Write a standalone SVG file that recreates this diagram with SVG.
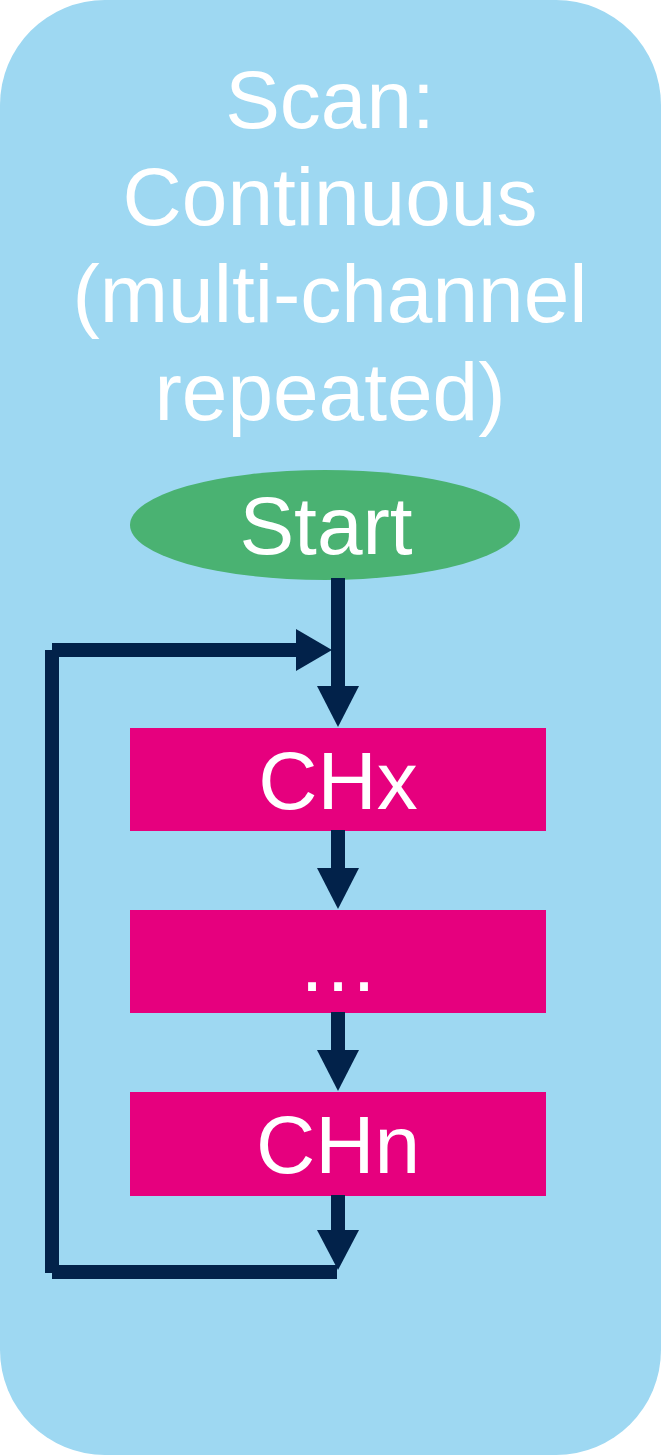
<svg xmlns="http://www.w3.org/2000/svg" width="662" height="1455" viewBox="0 0 662 1455">
<style>
.t{font-family:"Liberation Sans",Arial,sans-serif;font-size:82px;fill:#fff;text-anchor:middle}
.box{fill:#E6007E}
.ln{stroke:#02224A;stroke-width:14;fill:none;stroke-linecap:butt}
.ah{fill:#02224A}
</style>
<g id="panel">
<rect x="0" y="0" width="661" height="1455" rx="105" ry="105" fill="#9ED8F2"/>
<text class="t" x="330" y="128">Scan:</text>
<text class="t" x="330" y="225">Continuous</text>
<text class="t" x="330" y="322">(multi-channel</text>
<text class="t" x="330" y="420">repeated)</text>
</g>
<g id="start">
<ellipse cx="325" cy="525" rx="195" ry="55" fill="#4AB272"/>
<text class="t" x="326" y="554">Start</text>
</g>
<g id="chx">
<rect class="box" x="130" y="728" width="416" height="103"/>
<text class="t" x="338" y="809">CHx</text>
</g>
<g id="dots">
<rect class="box" x="130" y="910" width="416" height="103"/>
<text class="t" x="338" y="991">…</text>
</g>
<g id="chn">
<rect class="box" x="130" y="1092" width="416" height="104"/>
<text class="t" x="338" y="1173">CHn</text>
</g>
<g id="connectors">
<line class="ln" x1="338" y1="578" x2="338" y2="688"/>
<polygon class="ah" points="317,686 359,686 338,727"/>
<line class="ln" x1="338" y1="830" x2="338" y2="870"/>
<polygon class="ah" points="317,868 359,868 338,909"/>
<line class="ln" x1="338" y1="1012" x2="338" y2="1052"/>
<polygon class="ah" points="317,1050 359,1050 338,1091"/>
<line class="ln" x1="338" y1="1195" x2="338" y2="1232"/>
<polygon class="ah" points="317,1230 359,1230 338,1270"/>
<line class="ln" x1="52" y1="1272" x2="337" y2="1272"/>
<line class="ln" x1="52" y1="1273" x2="52" y2="650"/>
<line class="ln" x1="52" y1="650" x2="298" y2="650"/>
<polygon class="ah" points="296,629 296,671 332,650"/>
</g>
</svg>
